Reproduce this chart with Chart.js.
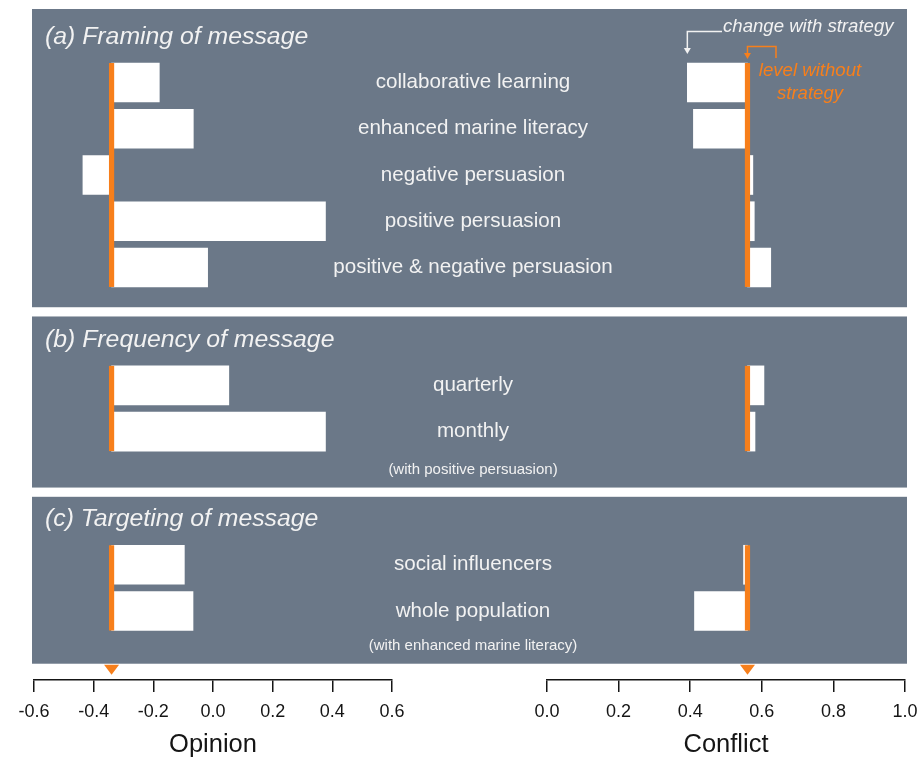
<!DOCTYPE html>
<html>
<head>
<meta charset="utf-8">
<title>Strategy effects on opinion and conflict</title>
<script src="https://cdn.jsdelivr.net/npm/chart.js@4.4.1/dist/chart.umd.min.js"></script>
<style>
  html, body { margin: 0; padding: 0; background: #ffffff; overflow: hidden; }
  #wrap { position: relative; width: 920px; height: 758px; overflow: hidden; }
  #wrap canvas { position: absolute; left: 0; top: 0; }
</style>
</head>
<body>
<div id="wrap">
  <canvas id="opinionChart" width="920" height="758"></canvas>
  <canvas id="conflictChart" width="950" height="758"></canvas>
</div>
<script>
// Panels
const panelTitles = ['(a) Framing of message', '(b) Frequency of message', '(c) Targeting of message'];
const panelNotes = ['', '(with positive persuasion)', '(with enhanced marine literacy)'];

// Categories
const framingLabels = ['collaborative learning', 'enhanced marine literacy', 'negative persuasion', 'positive persuasion', 'positive & negative persuasion'];
const frequencyLabels = ['quarterly', 'monthly'];
const targetingLabels = ['social influencers', 'whole population'];

// Opinion with strategy
const framingOpinion = [-0.18, -0.066, -0.436, 0.377, -0.018];
const frequencyOpinion = [0.053, 0.377];
const targetingOpinion = [-0.096, -0.067];

// Conflict with strategy
const framingConflict = [0.392, 0.409, 0.575, 0.579, 0.625];
const frequencyConflict = [0.606, 0.581];
const targetingConflict = [0.549, 0.412];

// Level without strategy
const opinionBaseline = -0.34;
const conflictBaseline = 0.56;

// Tick labels
const opinionTicks = [-0.6, -0.4, -0.2, 0.0, 0.2, 0.4, 0.6];
const conflictTicks = [0.0, 0.2, 0.4, 0.6, 0.8, 1.0];

// Styles
const ORANGE = '#f77f1b';
const PANEL = '#6b7888';
const TEXT = '#f2f2f2';
const INK = '#151515';
const FONT = "'Liberation Sans', Arial, Helvetica, sans-serif";
const BAR = 39;

// Vertical layout, in row units (one row = one bar slot)
const headRows = [1.59, 1.49, 1.47];
const footRows = [0.86, 1.21, 1.14];
const panelGap = 0.2;
const axisGap = 0.35;

const groups = [
    {labels: framingLabels, opinion: framingOpinion, conflict: framingConflict},
    {labels: frequencyLabels, opinion: frequencyOpinion, conflict: frequencyConflict},
    {labels: targetingLabels, opinion: targetingOpinion, conflict: targetingConflict}
];

let cursor = 0;
const panels = groups.map(function(g, i) {
    const top = cursor;
    const rows = g.labels.map(function(_, j) { return top + headRows[i] + j; });
    const bottom = rows[rows.length - 1] + footRows[i];
    cursor = bottom + panelGap;
    return {top: top, bottom: bottom, rows: rows, title: panelTitles[i], note: panelNotes[i], group: g};
});
const yMax = panels[panels.length - 1].bottom + axisGap;

function barData(key, base) {
    const out = [];
    panels.forEach(function(p) {
        p.group[key].forEach(function(v, j) {
            out.push({y: p.rows[j], x: [base, v]});
        });
    });
    return out;
}

function fmtTick(v) {
    return (Math.abs(v) < 1e-9 ? 0 : v).toFixed(1);
}

function makeOptions(cfg) {
    return {
        indexAxis: 'y',
        responsive: false,
        animation: false,
        events: [],
        layout: {padding: {left: cfg.left, right: cfg.right, top: 9, bottom: 0}},
        plugins: {legend: {display: false}, tooltip: {enabled: false}},
        scales: {
            y: {type: 'linear', display: false, offset: false, grid: {offset: false}, min: 0, max: yMax, reverse: true},
            x: {
                type: 'linear',
                min: cfg.ticks[0],
                max: cfg.ticks[cfg.ticks.length - 1],
                afterBuildTicks: function(axis) {
                    axis.ticks = cfg.ticks.map(function(v) { return {value: v}; });
                },
                grid: {drawOnChartArea: false, drawTicks: true, tickLength: 12, color: INK, lineWidth: 1.5},
                border: {color: INK, width: 1.5},
                ticks: {color: INK, font: {family: FONT, size: 18}, padding: 9, maxRotation: 0, autoSkip: false, callback: fmtTick},
                title: {display: true, text: cfg.title, color: INK, font: {family: FONT, size: 25.5, lineHeight: 1}, padding: {top: 1, bottom: 0}}
            }
        }
    };
}

// Orange line for the level without strategy, plus the marker under the panels
function baselinePlugin(base) {
    return {
        id: 'baseline',
        afterDatasetsDraw: function(chart) {
            const ctx = chart.ctx;
            const x = chart.scales.x.getPixelForValue(base);
            const ys = chart.scales.y;
            ctx.save();
            ctx.fillStyle = ORANGE;
            panels.forEach(function(p) {
                const y0 = ys.getPixelForValue(p.rows[0]) - BAR / 2;
                const y1 = ys.getPixelForValue(p.rows[p.rows.length - 1]) + BAR / 2;
                ctx.fillRect(x - 2.6, y0, 5.2, y1 - y0);
            });
            const ty = ys.getPixelForValue(panels[panels.length - 1].bottom) + 1;
            ctx.beginPath();
            ctx.moveTo(x - 7.5, ty);
            ctx.lineTo(x + 7.5, ty);
            ctx.lineTo(x, ty + 10);
            ctx.closePath();
            ctx.fill();
            ctx.restore();
        }
    };
}

// Panel backgrounds, titles, row labels
const panelPlugin = {
    id: 'panels',
    beforeDraw: function(chart) {
        const ctx = chart.ctx;
        const ys = chart.scales.y;
        ctx.save();
        ctx.fillStyle = PANEL;
        panels.forEach(function(p) {
            const y0 = ys.getPixelForValue(p.top);
            const y1 = ys.getPixelForValue(p.bottom);
            ctx.fillRect(32, y0, 875, y1 - y0);
        });
        ctx.restore();
    },
    afterDatasetsDraw: function(chart) {
        const ctx = chart.ctx;
        const ys = chart.scales.y;
        ctx.save();
        ctx.fillStyle = TEXT;
        panels.forEach(function(p) {
            ctx.textAlign = 'left';
            ctx.textBaseline = 'alphabetic';
            ctx.font = 'italic 24.8px ' + FONT;
            ctx.fillText(p.title, 45, ys.getPixelForValue(p.rows[0]) - 38.5);

            ctx.textAlign = 'center';
            ctx.textBaseline = 'middle';
            ctx.font = '20.6px ' + FONT;
            p.group.labels.forEach(function(label, j) {
                ctx.fillText(label, 473, ys.getPixelForValue(p.rows[j]));
            });
            if (p.note) {
                ctx.font = '15px ' + FONT;
                ctx.fillText(p.note, 473, ys.getPixelForValue(p.bottom) - 17.5);
            }
        });
        ctx.restore();
    }
};

function arrowDown(ctx, x, tip) {
    ctx.beginPath();
    ctx.moveTo(x - 3.5, tip - 6);
    ctx.lineTo(x + 3.5, tip - 6);
    ctx.lineTo(x, tip);
    ctx.closePath();
    ctx.fill();
}

// Legend-like notes at the top right
const notePlugin = {
    id: 'strategyNotes',
    afterDraw: function(chart) {
        const ctx = chart.ctx;
        const xs = chart.scales.x;
        const xBar = xs.getPixelForValue(framingConflict[0]);
        const xBase = xs.getPixelForValue(conflictBaseline);
        ctx.save();
        ctx.lineWidth = 1.5;

        ctx.strokeStyle = TEXT;
        ctx.fillStyle = TEXT;
        ctx.beginPath();
        ctx.moveTo(722, 31.5);
        ctx.lineTo(xBar, 31.5);
        ctx.lineTo(xBar, 48);
        ctx.stroke();
        arrowDown(ctx, xBar, 54);
        ctx.font = 'italic 18.6px ' + FONT;
        ctx.textAlign = 'left';
        ctx.textBaseline = 'middle';
        ctx.fillText('change with strategy', 723, 27);

        ctx.strokeStyle = ORANGE;
        ctx.fillStyle = ORANGE;
        ctx.beginPath();
        ctx.moveTo(xBase, 54);
        ctx.lineTo(xBase, 46.5);
        ctx.lineTo(776, 46.5);
        ctx.lineTo(776, 58);
        ctx.stroke();
        arrowDown(ctx, xBase, 59);
        ctx.textAlign = 'center';
        ctx.fillText('level without', 810, 71);
        ctx.fillText('strategy', 810, 94);
        ctx.restore();
    }
};

Chart.defaults.font.family = FONT;

const opinionChart = new Chart(document.getElementById('opinionChart').getContext('2d'), {
    type: 'bar',
    data: {
        datasets: [{
            data: barData('opinion', opinionBaseline),
            backgroundColor: '#ffffff',
            borderWidth: 0,
            borderSkipped: false,
            barThickness: BAR
        }]
    },
    options: makeOptions({left: 34, right: 528, ticks: opinionTicks, title: 'Opinion'}),
    plugins: [panelPlugin, baselinePlugin(opinionBaseline)]
});

// wider canvas (clipped by the wrapper) so the 1.0 label can overhang the edge
const conflictChart = new Chart(document.getElementById('conflictChart').getContext('2d'), {
    type: 'bar',
    data: {
        datasets: [{
            data: barData('conflict', conflictBaseline),
            backgroundColor: '#ffffff',
            borderWidth: 0,
            borderSkipped: false,
            barThickness: BAR
        }]
    },
    options: makeOptions({left: 547, right: 45, ticks: conflictTicks, title: 'Conflict'}),
    plugins: [baselinePlugin(conflictBaseline), notePlugin]
});
</script>
</body>
</html>
